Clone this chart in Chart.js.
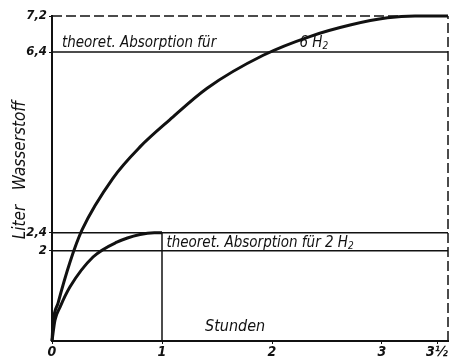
<!DOCTYPE html>
<html>
<head>
<meta charset="utf-8">
<script src="https://cdn.jsdelivr.net/npm/chart.js@4.4.1/dist/chart.umd.min.js"></script>
<style>
  html, body { margin: 0; padding: 0; background: #fff; }
  #wrap { width: 465px; height: 359px; }
</style>
</head>
<body>
<div id="wrap"><canvas id="chart"></canvas></div>
<script>
// curve for 6 H2 (hours, liters)
const hours6 = [0, 0.01, 0.055, 0.164, 0.273, 0.555, 0.8, 1.07, 1.41, 1.92, 2.35, 2.71, 3.05, 3.3, 3.6];
const liters6 = [0, 0.4, 0.84, 1.75, 2.46, 3.61, 4.3, 4.9, 5.6, 6.33, 6.75, 7.0, 7.16, 7.2, 7.2];
// curve for 2 H2
const hours2 = [0, 0.027, 0.073, 0.164, 0.373, 0.59, 0.8, 0.93, 1.0];
const liters2 = [0, 0.46, 0.75, 1.2, 1.86, 2.19, 2.36, 2.4, 2.4];
// theoretical levels and axis ticks
const levels = [6.4, 2.4, 2];
const yTicks = [2, 2.4, 6.4, 7.2];
const xTicks = [0, 1, 2, 3, 3.5];
const xMax = 3.6;
const yMax = 7.2;

const ink = '#111';
const font = '"DejaVu Sans Condensed", "DejaVu Sans", sans-serif';

const pts = (xs, ys) => xs.map((x, i) => ({ x: x, y: ys[i] }));
const hline = (y) => [{ x: 0, y: y }, { x: xMax, y: y }];

const datasets = [
    { data: pts(hours6, liters6), borderWidth: 3, cubicInterpolationMode: 'monotone' },
    { data: pts(hours2, liters2), borderWidth: 3, cubicInterpolationMode: 'monotone' },
    { data: [{ x: 1, y: 0 }, { x: 1, y: 2.4 }], borderWidth: 1.5 },
    { data: hline(yMax), borderWidth: 1.5, borderDash: [10, 4] },
    { data: [{ x: xMax, y: 0 }, { x: xMax, y: yMax }], borderWidth: 1.5, borderDash: [10, 4] }
];
levels.forEach(l => datasets.push({ data: hline(l), borderWidth: 1.5 }));
datasets.forEach(d => {
    d.borderColor = ink;
    d.pointRadius = 0;
    d.fill = false;
    d.clip = 4;
});

// writes "text H" with a subscript 2
function withSub(c, text, x, y) {
    c.font = 'italic 15px ' + font;
    c.fillText(text, x, y);
    const w = c.measureText(text).width;
    c.font = 'italic 10px ' + font;
    c.fillText('2', x + w, y + 2);
}

// text written into the plot
const notes = {
    id: 'notes',
    afterDraw(chart) {
        const c = chart.ctx;
        const xs = chart.scales.x, ys = chart.scales.y;
        c.save();
        c.fillStyle = ink;
        c.textBaseline = 'alphabetic';
        c.font = 'italic 15px ' + font;
        c.fillText('theoret. Absorption für', xs.getPixelForValue(0.09), ys.getPixelForValue(6.4) - 5);
        withSub(c, '6 H', xs.getPixelForValue(2.25), ys.getPixelForValue(6.4) - 5);
        withSub(c, 'theoret. Absorption für 2 H', xs.getPixelForValue(1.04), ys.getPixelForValue(2) - 4);
        c.font = 'italic 16px ' + font;
        c.fillText('Stunden', 205, 331);
        c.translate(25, 170);
        c.rotate(-Math.PI / 2);
        c.textAlign = 'center';
        c.font = 'italic 17px ' + font;
        c.fillText('Liter   Wasserstoff', 0, 0);
        c.restore();
    }
};

new Chart(document.getElementById('chart'), {
    type: 'line',
    data: { datasets: datasets },
    options: {
        responsive: true,
        maintainAspectRatio: false,
        animation: false,
        layout: { padding: { top: 16, right: 17, left: 0, bottom: 0 } },
        plugins: { legend: { display: false }, tooltip: { enabled: false } },
        scales: {
            x: {
                type: 'linear',
                min: 0,
                max: xMax,
                afterBuildTicks: s => { s.ticks = xTicks.map(v => ({ value: v })); },
                afterFit: s => { s.height = 18; },
                grid: { drawOnChartArea: false, tickLength: 3, color: ink },
                border: { color: ink, width: 2 },
                ticks: {
                    color: ink,
                    padding: 0,
                    maxRotation: 0,
                    font: { family: font, size: 14, style: 'italic', weight: 'bold' },
                    callback: v => v === 3.5 ? '3½' : String(v)
                }
            },
            y: {
                type: 'linear',
                min: 0,
                max: yMax,
                afterBuildTicks: s => { s.ticks = yTicks.map(v => ({ value: v })); },
                afterFit: s => { s.width = 52; },
                grid: { drawOnChartArea: false, tickLength: 3, color: ink },
                border: { color: ink, width: 2 },
                ticks: {
                    color: ink,
                    padding: 2,
                    font: { family: font, size: 13, style: 'italic', weight: 'bold' },
                    callback: v => String(v).replace('.', ',')
                }
            }
        }
    },
    plugins: [notes]
});
</script>
</body>
</html>
